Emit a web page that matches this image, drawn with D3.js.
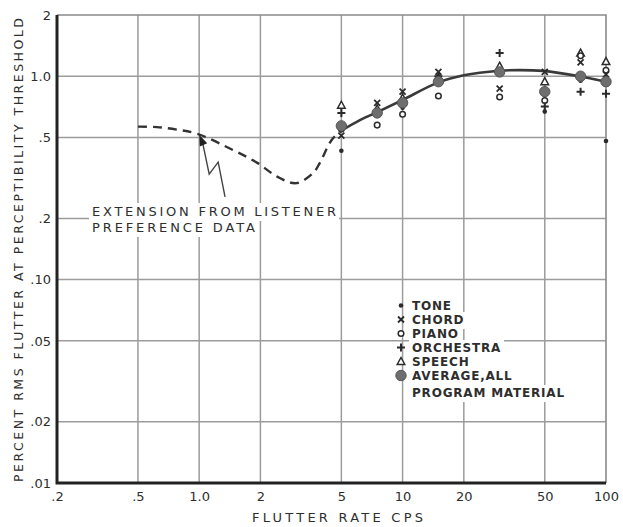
<!DOCTYPE html>
<html>
<head>
<meta charset="utf-8">
<script src="https://cdn.jsdelivr.net/npm/d3@7"></script>
<style>
  body { margin: 0; background: #fff; }
  svg { display: block; }
  text { font-family: "DejaVu Sans", sans-serif; fill: #2e2e2e; }
</style>
</head>
<body>
<div id="chart"></div>
<script>
// flutter rates (cps) where program material was tested
var rates = [5, 7.5, 10, 15, 30, 50, 75, 100];
var tone      = [0.43, 0.68, 0.70, 1.00, 1.04, 0.67, 0.95, 0.48];
var chord     = [0.51, 0.74, 0.84, 1.05, 0.87, 1.05, 1.17, 1.02];
var piano     = [0.55, 0.575, 0.65, 0.80, 0.79, 0.76, 1.26, 1.07];
var orchestra = [0.66, 0.66, 0.72, 1.00, 1.30, 0.71, 0.84, 0.82];
var speech    = [0.72, 0.69, 0.78, 0.97, 1.12, 0.94, 1.30, 1.18];
var average   = [0.57, 0.66, 0.74, 0.94, 1.05, 0.84, 1.00, 0.94];

// smooth fitted curve (solid) and listener preference extension (dashed)
var fitRate  = [5, 6.2, 7.6, 10, 14.7, 20, 30, 38, 49, 74, 100];
var fitValue = [0.54, 0.61, 0.67, 0.764, 0.925, 1.01, 1.064, 1.072, 1.062, 1.0, 0.94];
var extRate  = [0.5, 0.62, 0.78, 0.98, 1.47, 1.93, 2.43, 3.0, 3.63, 3.92, 4.48, 5];
var extValue = [0.565, 0.562, 0.546, 0.521, 0.433, 0.375, 0.32, 0.298, 0.334, 0.375, 0.486, 0.54];

// pointer from annotation to the curve (data space)
var pointerRate  = [1.34, 1.24, 1.12, 1.04];
var pointerValue = [0.255, 0.378, 0.33, 0.47];
var pointerTip   = [1.0, 0.515];

var xTickVals   = [0.2, 0.5, 1, 2, 5, 10, 20, 50, 100];
var xTickLabels = [".2", ".5", "1.0", "2", "5", "10", "20", "50", "100"];
var yTickVals   = [0.01, 0.02, 0.05, 0.1, 0.2, 0.5, 1, 2];
var yTickLabels = [".01", ".02", ".05", ".10", ".2", ".5", "1.0", "2"];
var xGridVals = [0.5, 1, 2, 5, 10, 20, 50];
var yGridVals = [0.02, 0.05, 0.1, 0.2, 0.5, 1];

var legendLabels = ["TONE", "CHORD", "PIANO", "ORCHESTRA", "SPEECH", "AVERAGE,ALL"];
var legendKeys   = ["tone", "chord", "piano", "orchestra", "speech", "average"];

var width = 623, height = 527;
var plotLeft = 57, plotRight = 606, plotTop = 15, plotBottom = 483;

var x = d3.scaleLog().domain([0.2, 100]).range([plotLeft, plotRight]);
var y = d3.scaleLog().domain([0.01, 2]).range([plotBottom, plotTop]);

var svg = d3.select("#chart").append("svg")
  .attr("width", width)
  .attr("height", height);

var ink = "#2b2b2b";
var gridColor = "#9c9c9c";

// grid
var grid = svg.append("g");
grid.selectAll("line.gx").data(xGridVals).enter().append("line")
  .attr("x1", d => x(d)).attr("x2", d => x(d))
  .attr("y1", plotTop).attr("y2", plotBottom)
  .attr("stroke", gridColor).attr("stroke-width", 1.5);
grid.selectAll("line.gy").data(yGridVals).enter().append("line")
  .attr("x1", plotLeft).attr("x2", plotRight)
  .attr("y1", d => y(d)).attr("y2", d => y(d))
  .attr("stroke", gridColor).attr("stroke-width", 1.5);

// top and right frame, thin
svg.append("path")
  .attr("d", "M" + plotLeft + "," + plotTop + "H" + plotRight + "V" + plotBottom)
  .attr("fill", "none").attr("stroke", "#8a8a8a").attr("stroke-width", 1.6);

// white boxes behind text blocks (the scan has grid broken there)
var boxes = svg.append("g");

// annotation text
var note = svg.append("g");
note.append("text").attr("x", 92).attr("y", 216)
  .attr("font-size", 13).attr("textLength", 244).attr("lengthAdjust", "spacing")
  .text("EXTENSION FROM LISTENER");
note.append("text").attr("x", 92).attr("y", 232)
  .attr("font-size", 13).attr("textLength", 163).attr("lengthAdjust", "spacing")
  .text("PREFERENCE DATA");

// legend
var legend = svg.append("g");
var legendX = 401, legendY = 310, rowH = 14;
legend.selectAll("text.row").data(legendLabels).enter().append("text")
  .attr("x", legendX + 11)
  .attr("y", (d, i) => legendY + i * rowH)
  .attr("font-size", 12).attr("font-weight", "bold")
  .attr("letter-spacing", 0.8)
  .text(d => d);
legend.append("text")
  .attr("x", legendX + 11)
  .attr("y", legendY + 5 * rowH + 17)
  .attr("font-size", 12).attr("font-weight", "bold")
  .attr("letter-spacing", 0.8)
  .text("PROGRAM MATERIAL");

[note, legend].forEach(function(g) {
  g.selectAll("text").each(function() {
    var b = this.getBBox();
    boxes.append("rect")
      .attr("x", b.x - 3).attr("y", b.y - 1)
      .attr("width", b.width + 6).attr("height", b.height + 3)
      .attr("fill", "#fff");
  });
});

// axes: thick left and bottom
svg.append("path")
  .attr("d", "M" + plotLeft + "," + plotTop + "V" + plotBottom + "H" + plotRight)
  .attr("fill", "none").attr("stroke", "#222").attr("stroke-width", 3);

var xAxis = svg.append("g")
  .attr("transform", "translate(0," + plotBottom + ")")
  .call(d3.axisBottom(x).tickValues(xTickVals)
    .tickFormat((d, i) => xTickLabels[i]).tickSize(0).tickPadding(9));
xAxis.select(".domain").remove();
xAxis.selectAll("text").attr("font-size", 13).attr("fill", "#333")
  .style("font-family", "DejaVu Sans, sans-serif");

var yAxis = svg.append("g")
  .attr("transform", "translate(" + plotLeft + ",0)")
  .call(d3.axisLeft(y).tickValues(yTickVals)
    .tickFormat((d, i) => yTickLabels[i]).tickSize(0).tickPadding(6));
yAxis.select(".domain").remove();
yAxis.selectAll("text").attr("font-size", 13).attr("fill", "#333")
  .style("font-family", "DejaVu Sans, sans-serif");

// axis titles
svg.append("text")
  .attr("x", 252).attr("y", 522)
  .attr("font-size", 13).attr("textLength", 171).attr("lengthAdjust", "spacing")
  .text("FLUTTER RATE CPS");
svg.append("text")
  .attr("transform", "translate(23,482) rotate(-90)")
  .attr("font-size", 12.5).attr("textLength", 464).attr("lengthAdjust", "spacing")
  .text("PERCENT RMS FLUTTER AT PERCEPTIBILITY THRESHOLD");

// curves
var line = d3.line().x(d => x(d[0])).y(d => y(d[1])).curve(d3.curveCatmullRom);
svg.append("path")
  .datum(extRate.map((r, i) => [r, extValue[i]]))
  .attr("d", line)
  .attr("fill", "none").attr("stroke", "#333").attr("stroke-width", 2.4)
  .attr("stroke-dasharray", "9,6");

// pointer zigzag with arrowhead
svg.append("path")
  .datum(pointerRate.map((r, i) => [r, pointerValue[i]]))
  .attr("d", d3.line().x(d => x(d[0])).y(d => y(d[1])))
  .attr("fill", "none").attr("stroke", "#444").attr("stroke-width", 1.4);
(function() {
  var tx = x(pointerTip[0]), ty = y(pointerTip[1]);
  var bx = x(pointerRate[3]), by = y(pointerValue[3]);
  var a = Math.atan2(ty - by, tx - bx), len = 11, w = 4;
  var p1 = [tx - len * Math.cos(a) + w * Math.sin(a), ty - len * Math.sin(a) - w * Math.cos(a)];
  var p2 = [tx - len * Math.cos(a) - w * Math.sin(a), ty - len * Math.sin(a) + w * Math.cos(a)];
  svg.append("path")
    .attr("d", "M" + tx + "," + ty + "L" + p1 + "L" + p2 + "Z")
    .attr("fill", "#222");
})();

svg.append("path")
  .datum(fitRate.map((r, i) => [r, fitValue[i]]))
  .attr("d", line)
  .attr("fill", "none").attr("stroke", "#3a3a3a").attr("stroke-width", 2.6);

// marker drawing
function drawMarker(g, kind, cx, cy) {
  if (kind === "tone") {
    g.append("circle").attr("cx", cx).attr("cy", cy).attr("r", 2.3).attr("fill", ink);
  } else if (kind === "chord") {
    g.append("path")
      .attr("d", "M" + (cx - 3) + "," + (cy - 3) + "L" + (cx + 3) + "," + (cy + 3) +
                 "M" + (cx + 3) + "," + (cy - 3) + "L" + (cx - 3) + "," + (cy + 3))
      .attr("stroke", ink).attr("stroke-width", 1.8);
  } else if (kind === "piano") {
    g.append("circle").attr("cx", cx).attr("cy", cy).attr("r", 2.8)
      .attr("fill", "#fff").attr("stroke", ink).attr("stroke-width", 1.5);
  } else if (kind === "orchestra") {
    g.append("path")
      .attr("d", "M" + (cx - 4) + "," + cy + "H" + (cx + 4) + "M" + cx + "," + (cy - 4) + "V" + (cy + 4))
      .attr("stroke", ink).attr("stroke-width", 2);
  } else if (kind === "speech") {
    g.append("path")
      .attr("d", "M" + cx + "," + (cy - 4) + "L" + (cx + 3.8) + "," + (cy + 3) + "L" + (cx - 3.8) + "," + (cy + 3) + "Z")
      .attr("fill", "#fff").attr("stroke", ink).attr("stroke-width", 1.5);
  } else if (kind === "average") {
    g.append("circle").attr("cx", cx).attr("cy", cy).attr("r", 5.2)
      .attr("fill", "#6e6e6e").attr("stroke", "#555").attr("stroke-width", 1);
  }
}

var series = { tone: tone, chord: chord, piano: piano, orchestra: orchestra, speech: speech, average: average };
var marks = svg.append("g");
["speech", "piano", "chord", "orchestra", "tone", "average"].forEach(function(k) {
  series[k].forEach(function(v, i) {
    drawMarker(marks, k, x(rates[i]), y(v));
  });
});

// legend symbols
legendKeys.forEach(function(k, i) {
  drawMarker(legend, k, legendX, legendY + i * rowH - 4.5);
});
</script>
</body>
</html>
